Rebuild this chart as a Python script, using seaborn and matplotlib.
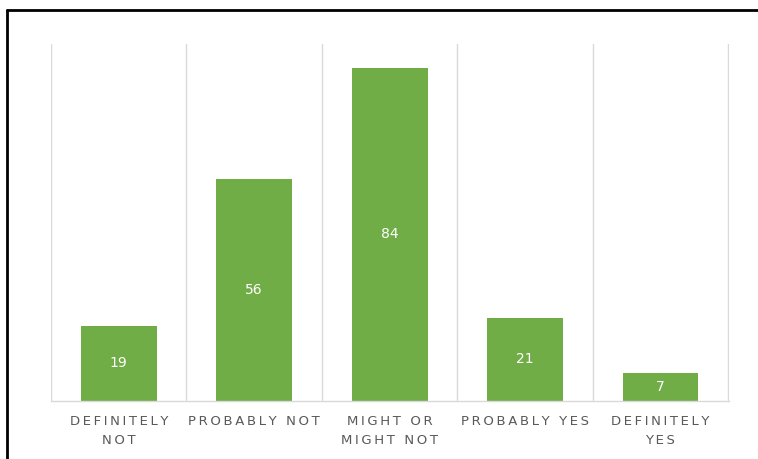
import matplotlib
matplotlib.use("Agg")
import matplotlib.pyplot as plt
from matplotlib.lines import Line2D
from matplotlib.ticker import FixedLocator
import seaborn as sns
import pandas as pd

categories = ["DEFINITELY\nNOT", "PROBABLY NOT", "MIGHT OR\nMIGHT NOT", "PROBABLY YES", "DEFINITELY\nYES"]
values = [19, 56, 84, 21, 7]

BAR = "#70AD47"
GRID = "#D9D9D9"
TXT = "#595959"

sns.set_theme(style="white")
plt.rcParams["font.family"] = ["DejaVu Sans"]

def spaced(s):
    return "\n".join("\u2009".join(line) for line in s.split("\n"))

df = pd.DataFrame({"cat": categories, "val": values})

fig = plt.figure(figsize=(7.58, 4.59), dpi=100)
ax = fig.add_axes([51/758, 58/459, (729-51)/758, (401-44)/459])

sns.barplot(data=df, x="cat", y="val", color=BAR, width=0.56, saturation=1,
            linewidth=0, ax=ax)

ax.set_ylim(0, 90)
ax.set_xlim(-0.5, len(categories) - 0.5 + 0.006)
ax.set_yticks([])
ax.set_xlabel("")
ax.set_ylabel("")

ax.xaxis.set_minor_locator(FixedLocator([i - 0.5 for i in range(len(categories) + 1)]))
ax.grid(which="minor", axis="x", color=GRID, linewidth=1.0)
ax.tick_params(axis="x", which="both", length=0, pad=10)
ax.set_xticks(range(len(categories)))
ax.set_xticklabels([spaced(c) for c in categories], fontsize=9.5, color=TXT, linespacing=1.65)

for s in ["top", "right", "left"]:
    ax.spines[s].set_visible(False)
ax.spines["bottom"].set_color(GRID)
ax.spines["bottom"].set_linewidth(1.0)

for i, v in enumerate(values):
    ax.text(i, v / 2, str(v), ha="center", va="center", color="white", fontsize=10)

fig.add_artist(Line2D([7/758, 7/758], [0, 1 - 10/459], color="black", linewidth=2, transform=fig.transFigure))
fig.add_artist(Line2D([7/758, 1], [1 - 10/459, 1 - 10/459], color="black", linewidth=2, transform=fig.transFigure))

fig.savefig("out.png", dpi=100)
